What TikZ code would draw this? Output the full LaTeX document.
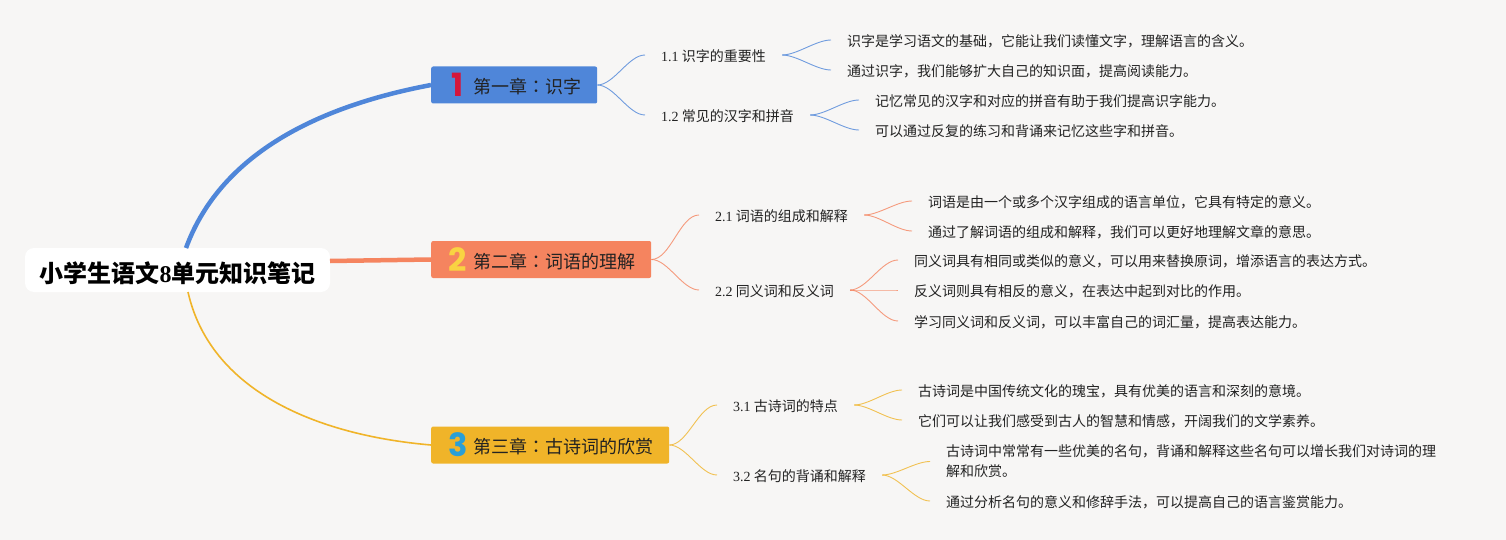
\documentclass[tikz,border=0pt]{standalone}
\usepackage{fontspec}
\setmainfont{Liberation Serif}
\newfontfamily\cjk{Noto Sans CJK SC}
\newfontfamily\cjktc{Noto Sans CJK TC}
\newfontfamily\iconfont{Poppins}
\definecolor{paper}{HTML}{F7F6F5}
\definecolor{bluebr}{HTML}{4F86D9}
\definecolor{orangebr}{HTML}{F5845F}
\definecolor{yellowbr}{HTML}{F0B429}
\definecolor{inktext}{HTML}{222222}
\definecolor{iconred}{HTML}{D4163C}
\definecolor{iconyellow}{HTML}{F9D342}
\definecolor{iconblue}{HTML}{2A9FD6}
\newcommand{\colonmark}{{\cjktc ：}}
\begin{document}
\begin{tikzpicture}[
    x=1pt, y=-1pt,
    root/.style={fill=white, rounded corners=9pt, minimum width=305pt, minimum height=44pt, inner sep=0pt, text height=24pt, text depth=0pt, font=\fontsize{24}{28}\cjk\bfseries, text=black},
    chapter/.style={rounded corners=2pt, minimum height=37pt, inner xsep=16pt, inner ysep=0pt, anchor=west, text height=18pt, text depth=1pt, font=\fontsize{18}{21}\cjk, text=inktext, execute at begin node=\hspace*{26pt}},
    icon/.style={font=\fontsize{32}{34}\iconfont\bfseries, inner sep=0pt},
    sub/.style={anchor=west, inner xsep=16pt, inner ysep=2pt, text height=15pt, text depth=1.4pt, font=\fontsize{14}{16}\cjk, text=inktext},
    leaf/.style={anchor=west, inner xsep=16pt, inner ysep=2pt, align=left, font=\fontsize{14}{20}\cjk, text=inktext},
    leafline/.style={leaf, text height=15pt, text depth=1.4pt},
    branch/.style={line width=0.9pt, opacity=0.8},
    twig/.style={branch, out=0, in=180, looseness=0.75},
]
\fill[paper] (0,0) rectangle (1506,540);
\useasboundingbox (0,0) rectangle (1506,540);

% Centre
\node[root] (root) at (177.5,270) {小学生语文{\rmfamily 8}单元知识笔记};

% --- CHAPTER ONE ---
\node[chapter, fill=bluebr] (ch1) at (431,85) {第一章\colonmark 识字};
\node[icon, text=iconred] (n1) at (458,85) {1};
\node[sub] (s11) at (645,55) {{\rmfamily 1.1} 识字的重要性};
\node[sub] (s12) at (645,115) {{\rmfamily 1.2} 常见的汉字和拼音};
\node[leafline] (l111) at (831,40) {识字是学习语文的基础，它能让我们读懂文字，理解语言的含义。};
\node[leafline] (l112) at (831,70) {通过识字，我们能够扩大自己的知识面，提高阅读能力。};
\node[leafline] (l121) at (859,100) {记忆常见的汉字和对应的拼音有助于我们提高识字能力。};
\node[leafline] (l122) at (859,130) {可以通过反复的练习和背诵来记忆这些字和拼音。};

% --- CHAPTER TWO ---
\node[chapter, fill=orangebr] (ch2) at (431,259.5) {第二章\colonmark 词语的理解};
\node[icon, text=iconyellow] (n2) at (458,259.5) {2};
\node[sub] (s21) at (699,215) {{\rmfamily 2.1} 词语的组成和解释};
\node[sub] (s22) at (699,290) {{\rmfamily 2.2} 同义词和反义词};
\node[leafline] (l211) at (912,201) {词语是由一个或多个汉字组成的语言单位，它具有特定的意义。};
\node[leafline] (l212) at (912,231) {通过了解词语的组成和解释，我们可以更好地理解文章的意思。};
\node[leafline] (l221) at (898,260) {同义词具有相同或类似的意义，可以用来替换原词，增添语言的表达方式。};
\node[leafline] (l222) at (898,290) {反义词则具有相反的意义，在表达中起到对比的作用。};
\node[leafline] (l223) at (898,321) {学习同义词和反义词，可以丰富自己的词汇量，提高表达能力。};

% --- CHAPTER THREE ---
\node[chapter, fill=yellowbr] (ch3) at (431,445) {第三章\colonmark 古诗词的欣赏};
\node[icon, text=iconblue] (n3) at (458,445) {3};
\node[sub] (s31) at (717,405) {{\rmfamily 3.1} 古诗词的特点};
\node[sub] (s32) at (717,475) {{\rmfamily 3.2} 名句的背诵和解释};
\node[leafline] (l311) at (902,390) {古诗词是中国传统文化的瑰宝，具有优美的语言和深刻的意境。};
\node[leafline] (l312) at (902,420) {它们可以让我们感受到古人的智慧和情感，开阔我们的文学素养。};
\node[leaf] (l321) at (930,461.5) {古诗词中常常有一些优美的名句，背诵和解释这些名句可以增长我们对诗词的理\\解和欣赏。};
\node[leafline] (l322) at (930,501) {通过分析名句的意义和修辞手法，可以提高自己的语言鉴赏能力。};

% Main branches
\coordinate (rootup) at (186,248);
\coordinate (rootright) at (330,261);
\coordinate (rootdown) at (188,292);
\draw[bluebr, line width=4.5pt] (rootup) .. controls (222,150) and (325,105) .. (ch1.west);
\draw[orangebr, line width=4.5pt] (rootright) -- (ch2.west);
\draw[yellowbr, line width=1.6pt] (rootdown) .. controls (210,390) and (315,435) .. (ch3.west);

% Thin branches
\foreach \from/\to in {ch1/s11, ch1/s12, s11/l111, s11/l112, s12/l121, s12/l122}
    \draw[twig, bluebr] (\from.east) to (\to.west);
\foreach \from/\to in {ch2/s21, ch2/s22, s21/l211, s21/l212, s22/l221, s22/l222, s22/l223}
    \draw[twig, orangebr] (\from.east) to (\to.west);
\foreach \from/\to in {ch3/s31, ch3/s32, s31/l311, s31/l312, s32/l321, s32/l322}
    \draw[twig, yellowbr] (\from.east) to (\to.west);

\end{tikzpicture}
\end{document}
